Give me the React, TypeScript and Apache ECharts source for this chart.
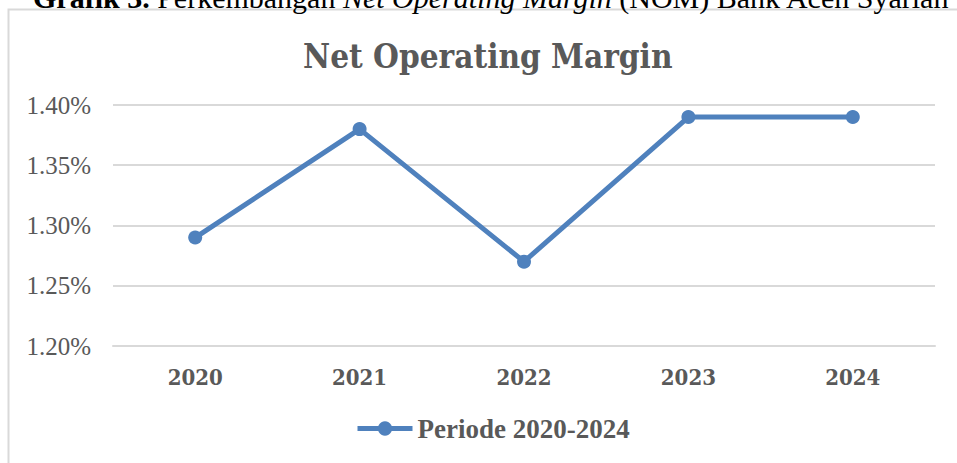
import React, { useEffect, useRef } from "react";
import * as echarts from "echarts";

const categories = ["2020", "2021", "2022", "2023", "2024"];
const nomValues = [1.29, 1.38, 1.27, 1.39, 1.39];
const seriesName = "Periode 2020-2024";
const chartTitle = "Net Operating Margin";
const yMin = 1.2;
const yMax = 1.4;
const yInterval = 0.05;

export default function App() {
  const ref = useRef<HTMLDivElement>(null);
  useEffect(() => {
    if (!ref.current) return;
    const chart = echarts.init(ref.current, null, { renderer: "svg" });
    const gray = "#595959";
    const capSize = 30;
    chart.setOption({
      animation: false,
      backgroundColor: "#ffffff",
      title: {
        text: chartTitle,
        left: 298,
        top: 35,
        textStyle: {
          fontFamily: "DejaVu Serif Condensed",
          fontWeight: "bold",
          fontSize: 33,
          color: gray,
        },
      },
      graphic: [
        {
          type: "rect",
          shape: { x: 8.5, y: 9.5, width: 1000, height: 1000 },
          style: { fill: "none", stroke: "#d9d9d9", lineWidth: 2 },
          silent: true,
        },
        {
          type: "text",
          x: 33,
          y: -3,
          style: {
            text: "{b|Grafik 3. }{n|Perkembangan }{i|Net Operating Margin}{n| (NOM) Bank Aceh Syariah}",
            verticalAlign: "middle",
            rich: {
              b: { fontFamily: "Liberation Serif", fontWeight: "bold", fontSize: capSize, fill: "#000", lineHeight: capSize },
              n: { fontFamily: "Liberation Serif", fontSize: capSize, fill: "#000", lineHeight: capSize },
              i: { fontFamily: "Liberation Serif", fontStyle: "italic", fontSize: capSize, fill: "#000", lineHeight: capSize },
            },
          },
        },
      ],
      legend: {
        bottom: 16,
        left: 350,
        itemWidth: 55,
        itemHeight: 18,
        lineStyle: { width: 5 },
        textStyle: {
          fontFamily: "Liberation Serif",
          fontWeight: "bold",
          fontSize: 27,
          color: gray,
        },
        data: [seriesName],
      },
      grid: { left: 113, right: 22, top: 105, bottom: 117 },
      xAxis: {
        type: "category",
        data: categories,
        boundaryGap: true,
        axisLine: { lineStyle: { color: "#d9d9d9", width: 2 } },
        axisTick: { show: false },
        axisLabel: {
          margin: 20,
          fontFamily: "DejaVu Serif Condensed",
          fontWeight: "bold",
          fontSize: 22,
          color: gray,
        },
      },
      yAxis: {
        type: "value",
        min: yMin,
        max: yMax,
        interval: yInterval,
        axisLine: { show: false },
        axisTick: { show: false },
        splitLine: { lineStyle: { color: "#d9d9d9", width: 2 } },
        axisLabel: {
          margin: 22,
          fontFamily: "Liberation Serif",
          fontSize: 25,
          color: gray,
          formatter: (v: number) => v.toFixed(2) + "%",
        },
      },
      series: [
        {
          name: seriesName,
          type: "line",
          data: nomValues,
          symbol: "circle",
          symbolSize: 14,
          itemStyle: { color: "#4f81bd" },
          lineStyle: { color: "#4f81bd", width: 5 },
        },
      ],
    });
    return () => chart.dispose();
  }, []);
  return (
    <div
      ref={ref}
      style={{ position: "fixed", left: 0, top: 0, width: 957, height: 463 }}
    />
  );
}
